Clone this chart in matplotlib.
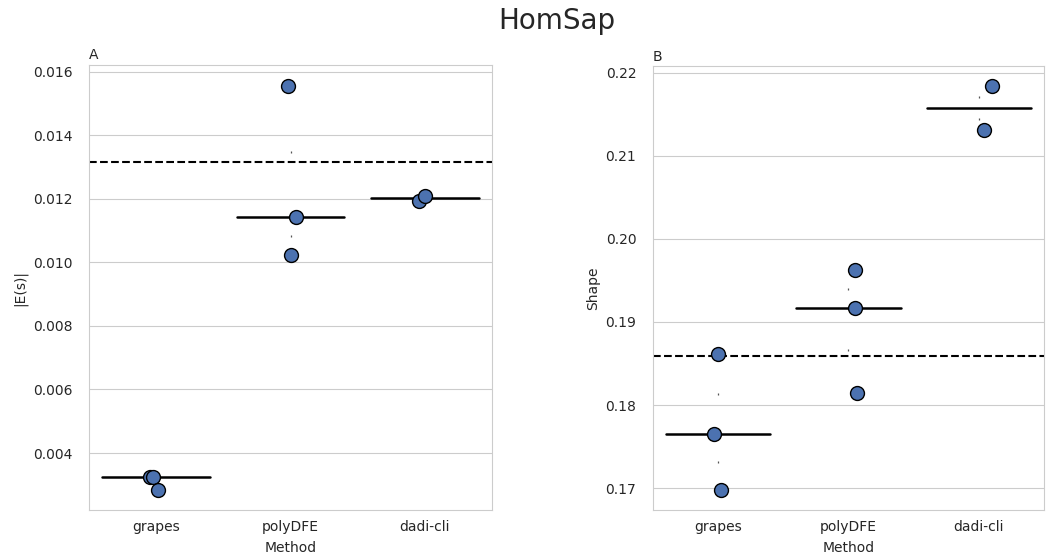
import numpy as np
import matplotlib
matplotlib.use("Agg")
import matplotlib.pyplot as plt
import seaborn as sns

methods = ["grapes", "polyDFE", "dadi-cli"]

# panel A: |E(s)| per method (3 runs each for grapes/polyDFE, 2 for dadi-cli)
es_vals = [[0.00324, 0.00324, 0.00283],
           [0.01555, 0.01142, 0.01022],
           [0.01195, 0.01210]]
es_jitter = [[-0.045, -0.02, 0.01],
             [-0.016, 0.04, 0.004],
             [-0.042, 0.003]]
es_true = 0.01316

# panel B: shape per method
shape_vals = [[0.1862, 0.1765, 0.1698],
              [0.1962, 0.1917, 0.1815],
              [0.2184, 0.2131]]
shape_jitter = [[-0.005, -0.03, 0.02],
                [0.05, 0.05, 0.065],
                [0.1, 0.04]]
shape_true = 0.18595

sns.set_style("whitegrid")
plt.rcParams["font.family"] = ["DejaVu Sans"]

fig = plt.figure(figsize=(10.47, 5.6), dpi=100)
axA = fig.add_axes([0.085, 0.089, 0.385, 0.795])
axB = fig.add_axes([0.6237, 0.089, 0.3733, 0.793])

blue = "#4C72B0"


def panel(ax, vals, jitter, true_val, ylabel, letter):
    for i, (v, j) in enumerate(zip(vals, jitter)):
        v = np.array(v)
        med = np.median(v)
        q1, q3 = np.percentile(v, [25, 75])
        ax.plot([i - 0.4, i + 0.4], [med, med], color="black", lw=1.8, zorder=2)
        ax.plot([i, i], [q1, q3], marker="|", ms=2, mew=0.9, color="#555555", ls="none", zorder=1)
        ax.scatter(i + np.array(j), v, s=100, color=blue, edgecolor="black",
                   linewidth=1.0, zorder=3)
    ax.axhline(true_val, color="black", ls="--", lw=1.5, zorder=2)
    ax.set_xlim(-0.5, 2.5)
    ax.set_xticks(range(3))
    ax.set_xticklabels(methods)
    ax.set_xlabel("Method", labelpad=5)
    ax.set_ylabel(ylabel)
    ax.grid(axis="x", visible=False)
    ax.set_title(letter, loc="left", fontsize=10, pad=4)
    ax.tick_params(labelsize=10)
    ax.tick_params(axis="y", pad=8.5)


panel(axA, es_vals, es_jitter, es_true, "|E(s)|", "A")
axA.set_ylim(0.00220, 0.01622)
axA.set_yticks([0.004, 0.006, 0.008, 0.010, 0.012, 0.014, 0.016])
axA.set_yticklabels(["0.004", "0.006", "0.008", "0.010", "0.012", "0.014", "0.016"])

panel(axB, shape_vals, shape_jitter, shape_true, "Shape", "B")
axB.set_ylim(0.16735, 0.2208)
axB.set_yticks([0.17, 0.18, 0.19, 0.20, 0.21, 0.22])
axB.set_yticklabels(["0.17", "0.18", "0.19", "0.20", "0.21", "0.22"])

fig.suptitle("HomSap", fontsize=20, x=0.532, y=0.987)
fig.savefig("out.png", dpi=100)
